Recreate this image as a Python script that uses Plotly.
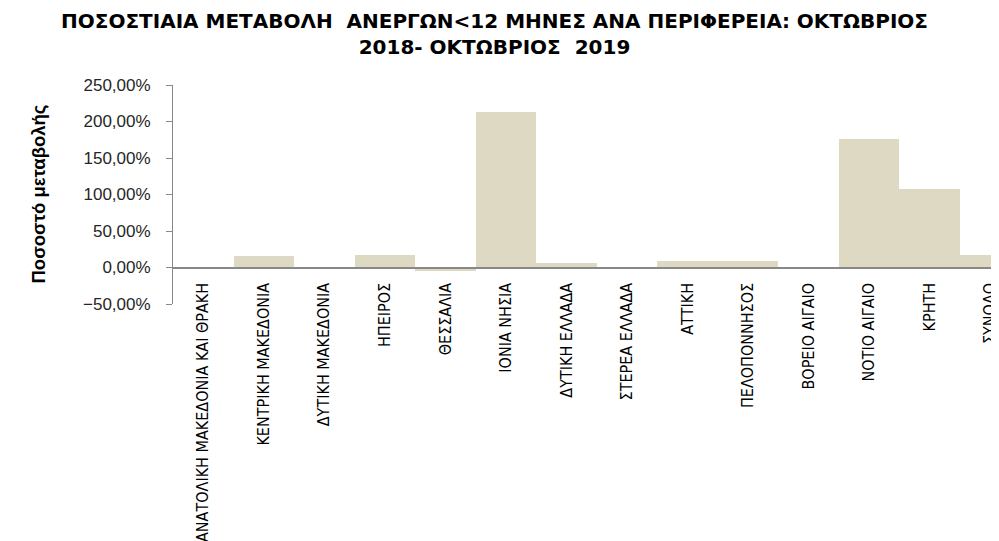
import plotly.graph_objects as go

categories = [
    "ΑΝΑΤΟΛΙΚΗ ΜΑΚΕΔΟΝΙΑ ΚΑΙ ΘΡΑΚΗ",
    "ΚΕΝΤΡΙΚΗ ΜΑΚΕΔΟΝΙΑ",
    "ΔΥΤΙΚΗ ΜΑΚΕΔΟΝΙΑ",
    "ΗΠΕΙΡΟΣ",
    "ΘΕΣΣΑΛΙΑ",
    "ΙΟΝΙΑ ΝΗΣΙΑ",
    "ΔΥΤΙΚΗ ΕΛΛΑΔΑ",
    "ΣΤΕΡΕΑ ΕΛΛΑΔΑ",
    "ΑΤΤΙΚΗ",
    "ΠΕΛΟΠΟΝΝΗΣΟΣ",
    "ΒΟΡΕΙΟ ΑΙΓΑΙΟ",
    "ΝΟΤΙΟ ΑΙΓΑΙΟ",
    "ΚΡΗΤΗ",
    "ΣΥΝΟΛΟ",
]
# percentage change (as fractions)
values = [-0.015, 0.164, 0.003, 0.173, -0.047, 2.13, 0.059, -0.02,
          0.09, 0.09, -0.02, 1.758, 1.08, 0.178]

y_tickvals = [-0.5, 0, 0.5, 1.0, 1.5, 2.0, 2.5]

title_text = ("ΠΟΣΟΣΤΙΑΙΑ ΜΕΤΑΒΟΛΗ  ΑΝΕΡΓΩΝ&lt;12 ΜΗΝΕΣ ΑΝΑ ΠΕΡΙΦΕΡΕΙΑ: ΟΚΤΩΒΡΙΟΣ"
              "<br>2018- ΟΚΤΩΒΡΙΟΣ  2019")
y_title = "Ποσοστό μεταβολής"

# the page body has an 8px margin, so the figure is offset by 8px
W, H = 991, 533
ML, MR, MT, MB = 165, 0, 77, 237
ymin, ymax = -0.5, 2.5
PW, PH = W - ML - MR, H - MT - MB

fig = go.Figure(go.Bar(
    x=list(range(len(categories))),
    y=values,
    marker=dict(color="#DDD9C3", line=dict(width=0)),
    hoverinfo="skip",
))

fig.update_layout(
    width=W, height=H,
    margin=dict(l=ML, r=MR, t=MT, b=MB, pad=0, autoexpand=False),
    paper_bgcolor="white", plot_bgcolor="white",
    bargap=0,
    separators=", ",
    showlegend=False,
    xaxis=dict(
        range=[-0.5, 13.15],
        tickmode="array",
        tickvals=list(range(len(categories))),
        ticktext=categories,
        tickangle=-90,
        ticks="outside", ticklen=8, tickcolor="rgba(0,0,0,0)",
        ticklabeloverflow="allow",
        tickfont=dict(family="DejaVu Sans Condensed, Liberation Sans", size=16, color="#000000"),
        showgrid=False, zeroline=False,
        showline=True, linecolor="#888888", linewidth=2,
        anchor="free",
        position=(0 - ymin) / (ymax - ymin),
        automargin=False,
    ),
    yaxis=dict(
        range=[ymin, ymax],
        tickmode="array",
        tickvals=y_tickvals,
        tickformat=".2%",
        ticks="outside", ticklen=6, tickcolor="#888888",
        ticklabelstandoff=12,
        tickfont=dict(family="Liberation Sans", size=17, color="#262626"),
        showgrid=False, zeroline=False,
        showline=True, linecolor="#888888", linewidth=1,
        automargin=False,
    ),
    annotations=[
        dict(
            text=y_title, textangle=-90,
            xref="paper", yref="paper",
            x=(30 - ML) / PW, y=0.5,
            xanchor="center", yanchor="middle",
            showarrow=False,
            font=dict(family="Liberation Sans", size=18.5, color="#000000", weight="bold"),
        ),
        dict(
            text=title_text,
            xref="paper", yref="paper",
            x=(486 - ML) / PW, y=1 + (MT + 1) / PH,
            xanchor="center", yanchor="top",
            showarrow=False,
            font=dict(family="DejaVu Sans", size=20, color="#000000", weight="bold"),
        ),
    ],
)

fig.write_html("out.html")
